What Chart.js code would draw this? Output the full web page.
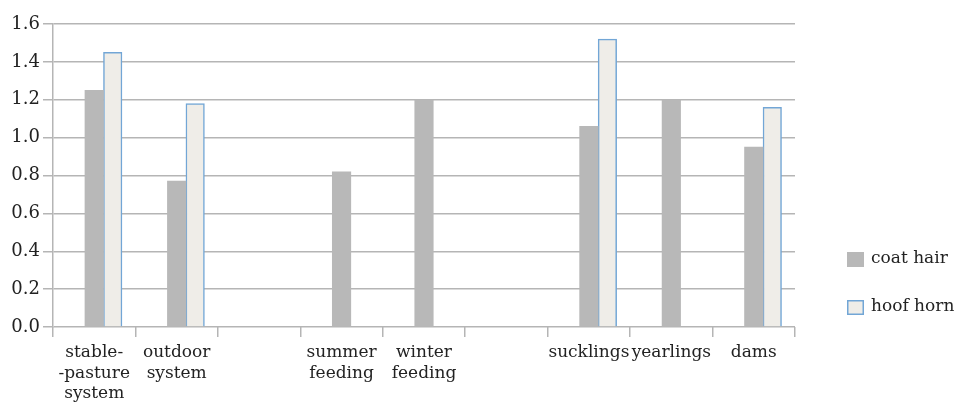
<!DOCTYPE html>
<html>
<head>
<meta charset="utf-8">
<script src="https://cdn.jsdelivr.net/npm/chart.js@4.4.0/dist/chart.umd.min.js"></script>
<style>
  html, body { margin: 0; padding: 0; background: #fff; }
  #wrap { width: 954px; height: 403px; position: relative; }
</style>
</head>
<body>
<div id="wrap"><canvas id="chart"></canvas></div>
<script>
// categories (multi-line labels as arrays)
const categories = [
    ['stable-', '-pasture', 'system'],
    ['outdoor', 'system'],
    '',
    ['summer', 'feeding'],
    ['winter', 'feeding'],
    '',
    'sucklings',
    'yearlings',
    'dams'
];

// series values
const coatHair = [1.25, 0.77, null, 0.82, 1.20, null, 1.06, 1.20, 0.95];
const hoofHorn = [1.45, 1.18, null, null, null, null, 1.52, null, 1.16];

// y axis ticks
const yTicks = [0.0, 0.2, 0.4, 0.6, 0.8, 1.0, 1.2, 1.4, 1.6];

const seriesNames = ['coat hair', 'hoof horn'];

const fontFamily = '"DejaVu Serif", "Liberation Serif", serif';
const gridColor = '#b5b5b5';

// draws the legend at the right, next to the plot
const sideLegend = {
    id: 'sideLegend',
    afterDraw(chart) {
        const ctx = chart.ctx;
        const sets = chart.data.datasets.filter(d => d.label);
        const x = chart.chartArea.right + 52;
        let y = 252;
        ctx.save();
        ctx.font = '17px ' + fontFamily;
        ctx.textBaseline = 'middle';
        sets.forEach(ds => {
            ctx.fillStyle = ds.backgroundColor;
            ctx.fillRect(x, y, 17, 15);
            if (ds.borderWidth) {
                ctx.strokeStyle = ds.borderColor;
                ctx.lineWidth = 1.5;
                ctx.strokeRect(x + 0.75, y + 0.75, 15.5, 13.5);
            }
            ctx.fillStyle = '#222';
            ctx.fillText(ds.label, x + 24, y + 7);
            y += 48;
        });
        ctx.restore();
    }
};

const ctx = document.getElementById('chart').getContext('2d');

const chart = new Chart(ctx, {
    type: 'bar',
    data: {
        labels: categories,
        datasets: [{
            // empty slot on the left so coat hair sits in the middle of each category
            label: '',
            data: categories.map(() => null),
            barThickness: 18.5
        }, {
            label: seriesNames[0],
            data: coatHair,
            backgroundColor: '#b8b8b8',
            borderWidth: 0,
            barThickness: 18.5
        }, {
            label: seriesNames[1],
            data: hoofHorn,
            backgroundColor: '#efede8',
            borderColor: '#72a6d6',
            borderWidth: 1.5,
            barThickness: 18.5
        }]
    },
    options: {
        responsive: true,
        maintainAspectRatio: false,
        animation: false,
        layout: {
            padding: { top: 24, right: 159, bottom: 0, left: 0 }
        },
        plugins: {
            legend: { display: false },
            tooltip: { enabled: false }
        },
        scales: {
            x: {
                offset: true,
                grid: {
                    offset: true,
                    drawOnChartArea: false,
                    drawTicks: true,
                    tickLength: 10,
                    color: gridColor,
                    lineWidth: 1.5
                },
                border: { display: false },
                ticks: {
                    color: '#222',
                    padding: 5,
                    maxRotation: 0,
                    autoSkip: false,
                    font: { family: fontFamily, size: 17, lineHeight: 1.22 }
                },
                afterFit(scale) { scale.height = 76; }
            },
            y: {
                min: 0,
                max: 1.6,
                afterBuildTicks(scale) {
                    scale.ticks = yTicks.map(v => ({ value: v }));
                },
                grid: {
                    color: gridColor,
                    lineWidth: 1.5,
                    tickLength: 10
                },
                border: { display: true, color: gridColor, width: 1.5 },
                ticks: {
                    color: '#222',
                    padding: 3,
                    font: { family: fontFamily, size: 18 },
                    callback: v => Number(v).toFixed(1)
                },
                afterFit(scale) { scale.width = 53; }
            }
        }
    },
    plugins: [sideLegend]
});
</script>
</body>
</html>
